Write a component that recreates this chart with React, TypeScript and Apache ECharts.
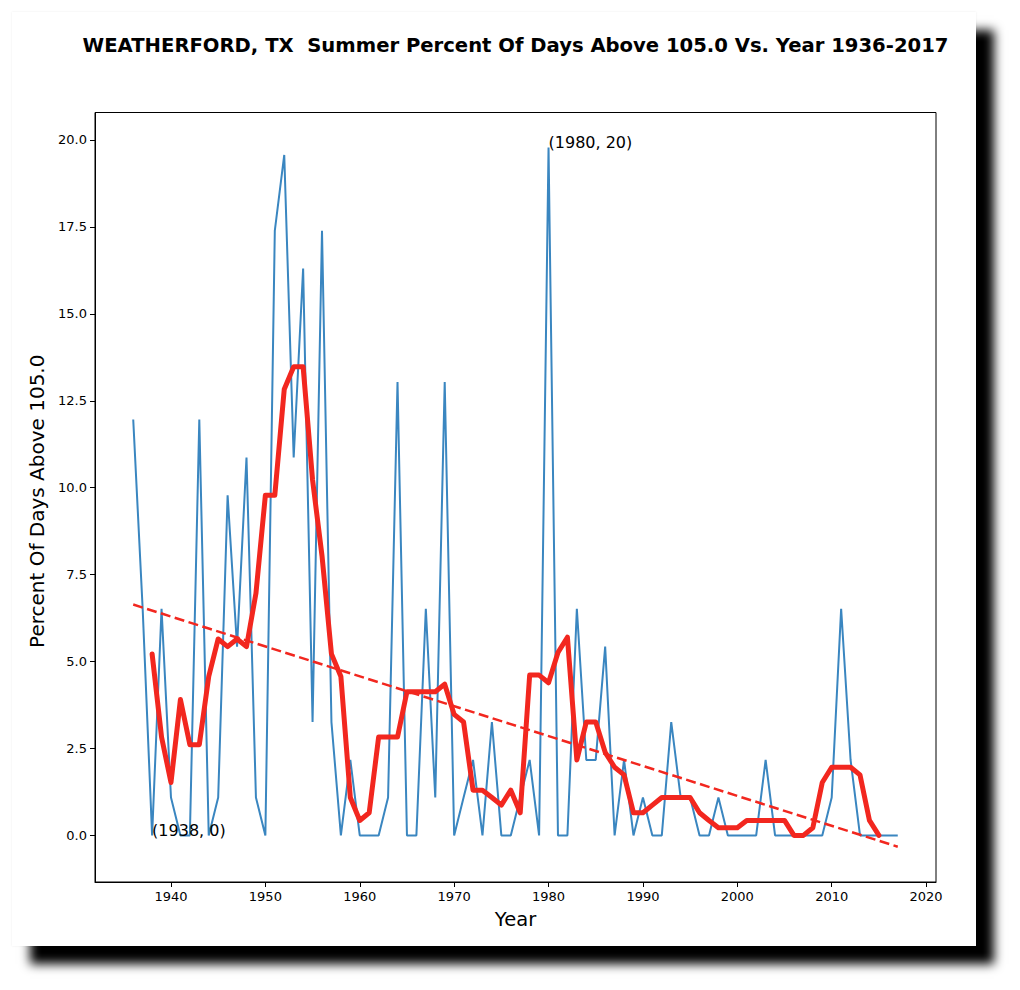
import React, { useEffect, useRef } from "react";
import * as echarts from "echarts";

const years: number[] = [
  1936, 1937, 1938, 1939, 1940, 1941, 1942, 1943, 1944, 1945,
  1946, 1947, 1948, 1949, 1950, 1951, 1952, 1953, 1954, 1955,
  1956, 1957, 1958, 1959, 1960, 1961, 1962, 1963, 1964, 1965,
  1966, 1967, 1968, 1969, 1970, 1971, 1972, 1973, 1974, 1975,
  1976, 1977, 1978, 1979, 1980, 1981, 1982, 1983, 1984, 1985,
  1986, 1987, 1988, 1989, 1990, 1991, 1992, 1993, 1994, 1995,
  1996, 1997, 1998, 1999, 2000, 2001, 2002, 2003, 2004, 2005,
  2006, 2007, 2008, 2009, 2010, 2011, 2012, 2013, 2014, 2015,
  2016, 2017,
];

const percentAbove: number[] = [
  11.96, 6.52, 0, 6.52, 1.09, 0, 0, 11.96, 0, 1.09,
  9.78, 5.43, 10.87, 1.09, 0, 17.39, 19.57, 10.87, 16.3, 3.26,
  17.39, 3.26, 0, 2.17, 0, 0, 0, 1.09, 13.04, 0,
  0, 6.52, 1.09, 13.04, 0, 1.09, 2.17, 0, 3.26, 0,
  0, 1.09, 2.17, 0, 19.78, 0, 0, 6.52, 2.17, 2.17,
  5.43, 0, 2.17, 0, 1.09, 0, 0, 3.26, 1.09, 1.09,
  0, 0, 1.09, 0, 0, 0, 0, 2.17, 0, 0,
  0, 0, 0, 0, 1.09, 6.52, 2.17, 0, 0, 0,
  0, 0,
];

const smoothYears: number[] = [
  1938, 1939, 1940, 1941, 1942, 1943, 1944, 1945, 1946, 1947,
  1948, 1949, 1950, 1951, 1952, 1953, 1954, 1955, 1956, 1957,
  1958, 1959, 1960, 1961, 1962, 1963, 1964, 1965, 1966, 1967,
  1968, 1969, 1970, 1971, 1972, 1973, 1974, 1975, 1976, 1977,
  1978, 1979, 1980, 1981, 1982, 1983, 1984, 1985, 1986, 1987,
  1988, 1989, 1990, 1991, 1992, 1993, 1994, 1995, 1996, 1997,
  1998, 1999, 2000, 2001, 2002, 2003, 2004, 2005, 2006, 2007,
  2008, 2009, 2010, 2011, 2012, 2013, 2014, 2015,
];

const smoothValues: number[] = [
  5.22, 2.83, 1.52, 3.91, 2.61, 2.61, 4.57, 5.65, 5.43, 5.65,
  5.43, 6.96, 9.78, 9.78, 12.83, 13.48, 13.48, 10.22, 8.04, 5.22,
  4.57, 1.09, 0.43, 0.65, 2.83, 2.83, 2.83, 4.13, 4.13, 4.13,
  4.13, 4.35, 3.48, 3.26, 1.3, 1.3, 1.09, 0.87, 1.3, 0.65,
  4.61, 4.61, 4.39, 5.26, 5.7, 2.17, 3.26, 3.26, 2.39, 1.96,
  1.74, 0.65, 0.65, 0.87, 1.09, 1.09, 1.09, 1.09, 0.65, 0.43,
  0.22, 0.22, 0.22, 0.43, 0.43, 0.43, 0.43, 0.43, 0, 0,
  0.22, 1.52, 1.96, 1.96, 1.96, 1.74, 0.43, 0,
];

const xTicks: number[] = [1940, 1950, 1960, 1970, 1980, 1990, 2000, 2010, 2020];
const yTicks: number[] = [0, 2.5, 5, 7.5, 10, 12.5, 15, 17.5, 20];

const annotations: { year: number; value: number; text: string }[] = [
  { year: 1938, value: 0, text: "(1938, 0)" },
  { year: 1980, value: 19.78, text: "(1980, 20)" },
];

const TITLE = "WEATHERFORD, TX  Summer Percent Of Days Above 105.0 Vs. Year 1936-2017";
const FONT = "DejaVu Sans";

function linearFit(xs: number[], ys: number[]) {
  const n = xs.length;
  let sx = 0, sy = 0, sxx = 0, sxy = 0;
  for (let i = 0; i < n; i++) {
    sx += xs[i];
    sy += ys[i];
    sxx += xs[i] * xs[i];
    sxy += xs[i] * ys[i];
  }
  const slope = (n * sxy - sx * sy) / (n * sxx - sx * sx);
  const intercept = (sy - slope * sx) / n;
  return { slope, intercept };
}

export default function App() {
  const ref = useRef<HTMLDivElement>(null);

  useEffect(() => {
    if (!ref.current) return;
    const chart = echarts.init(ref.current, undefined, { renderer: "svg" });
    const fit = linearFit(years, percentAbove);
    const first = years[0];
    const last = years[years.length - 1];
    const trend = [
      [first, fit.intercept + fit.slope * first],
      [last, fit.intercept + fit.slope * last],
    ];

    chart.setOption({
      animation: false,
      backgroundColor: "transparent",
      textStyle: { fontFamily: FONT },
      grid: {
        left: 95,
        top: 112.5,
        right: 84,
        bottom: 108,
        show: true,
        borderColor: "#000",
        borderWidth: 1,
        backgroundColor: "transparent",
      },
      graphic: [
        {
          type: "text",
          x: 515.5,
          y: 45,
          style: {
            text: TITLE,
            fontFamily: FONT,
            fontWeight: "bold",
            fontSize: 19.6,
            fill: "#000",
            textAlign: "center",
            textVerticalAlign: "middle",
          },
        },
      ],
      xAxis: {
        type: "value",
        min: 1931.95,
        max: 2021.05,
        name: "Year",
        nameLocation: "middle",
        nameGap: 27,
        nameTextStyle: { fontFamily: FONT, fontSize: 19.5, color: "#000" },
        axisLine: { show: true, onZero: false, lineStyle: { color: "#000", width: 1 } },
        axisTick: { show: true, length: 5, customValues: xTicks, lineStyle: { color: "#000" } },
        axisLabel: {
          show: true,
          customValues: xTicks,
          fontFamily: FONT,
          fontSize: 13,
          color: "#000",
          margin: 8,
          formatter: (v: number) => String(v),
        },
        splitLine: { show: false },
      },
      yAxis: {
        type: "value",
        min: -1.34,
        max: 20.79,
        name: "Percent Of Days Above 105.0",
        nameLocation: "middle",
        nameGap: 47,
        nameRotate: 90,
        nameTextStyle: { fontFamily: FONT, fontSize: 20, color: "#000", padding: [0, 8, 0, 0] },
        axisLine: { show: true, onZero: false, lineStyle: { color: "#000", width: 1 } },
        axisTick: { show: true, length: 5, customValues: yTicks, lineStyle: { color: "#000" } },
        axisLabel: {
          show: true,
          customValues: yTicks,
          fontFamily: FONT,
          fontSize: 13,
          color: "#000",
          margin: 8,
          formatter: (v: number) => v.toFixed(1),
        },
        splitLine: { show: false },
      },
      series: [
        {
          type: "line",
          name: "Percent",
          data: years.map((y, i) => [y, percentAbove[i]]),
          showSymbol: false,
          symbol: "none",
          lineStyle: { color: "#3a86c0", width: 2 },
          z: 2,
        },
        {
          type: "line",
          name: "Smoothed",
          data: smoothYears.map((y, i) => [y, smoothValues[i]]),
          showSymbol: false,
          symbol: "none",
          lineStyle: { color: "#f2271f", width: 5, join: "round", cap: "round" },
          z: 3,
        },
        {
          type: "line",
          name: "Trend",
          data: trend,
          showSymbol: false,
          symbol: "none",
          lineStyle: { color: "#f2271f", width: 2.5, type: [10, 4.5] },
          z: 4,
        },
        {
          type: "scatter",
          name: "Annotations",
          data: annotations.map((a) => [a.year, a.value, a.text]),
          symbolSize: 0,
          silent: true,
          itemStyle: { color: "#000" },
          label: {
            show: true,
            position: [0, 0],
            align: "left",
            verticalAlign: "bottom",
            offset: [0, 3],
            fontFamily: FONT,
            fontSize: 16,
            color: "#000",
            textBorderWidth: 0,
            opacity: 1,
            formatter: (p: any) => p.data[2],
          },
          z: 5,
        },
      ],
    });

    return () => chart.dispose();
  }, []);

  return (
    <div style={{ position: "fixed", left: 0, top: 0, width: 1020, height: 990, background: "#fff", overflow: "hidden" }}>
      <div
        style={{
          position: "absolute",
          left: 12,
          top: 12,
          width: 964,
          height: 934,
          background: "#fff",
          boxShadow: "18px 18px 10px rgba(0,0,0,1), 0 0 2px rgba(0,0,0,0.08)",
        }}
      />
      <div ref={ref} style={{ position: "absolute", left: 0, top: 0, width: 1020, height: 990 }} />
    </div>
  );
}
